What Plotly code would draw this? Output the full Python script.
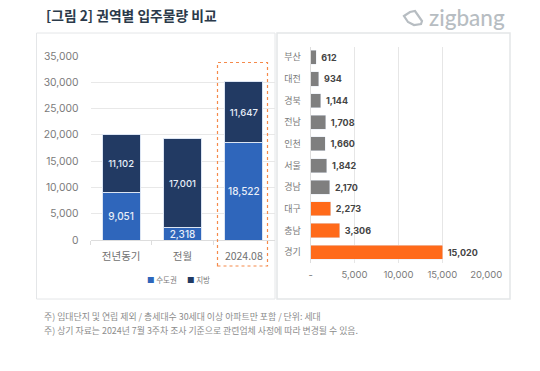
import plotly.graph_objects as go
from plotly.subplots import make_subplots

periods = ["전년동기", "전월", "2024.08"]
metro = [9051, 2318, 18522]
local = [11102, 17001, 11647]
regions = ["부산", "대전", "경북", "전남", "인천", "서울", "경남", "대구", "충남", "경기"]
region_values = [612, 934, 1144, 1708, 1660, 1842, 2170, 2273, 3306, 15020]
region_labels = ["612", "934", "1,144", "1,708", "1,660", "1,842", "2,170", "2,273", "3,306", "15,020"]
GRAY, ORANGE = "#7f7f7f", "#ff6a1a"
region_colors = [GRAY] * 7 + [ORANGE] * 3
BLUE, NAVY = "#2f66bb", "#223a63"
W, H = 540, 371
FONT = "Noto Sans CJK KR"


def px(x):
    return x / W


def py(y):
    return 1 - y / H


def logo_path(points):
    return "M " + " L ".join(f"{px(x):.5f},{py(y):.5f}" for x, y in points) + " Z"


LOGO_OUTLINE = [(404, 16), (410, 12), (415, 11), (422, 21), (421, 24), (414, 25), (408, 22)]

fig = make_subplots(rows=1, cols=2)
fig.add_trace(go.Bar(x=periods, y=metro, name="수도권", marker=dict(color=BLUE, line=dict(color="#dce5f3", width=1)),
                     text=[f"{v:,}" for v in metro], textposition="inside", insidetextanchor="middle",
                     textangle=0, insidetextfont=dict(color="#e8eef8", size=10, family="Inter", weight=500),
                     constraintext="none", showlegend=False), 1, 1)
fig.add_trace(go.Bar(x=periods, y=local, name="지방", marker=dict(color=NAVY, line=dict(color="#dce5f3", width=1)),
                     text=[f"{v:,}" for v in local], textposition="inside", insidetextanchor="middle",
                     textangle=0, insidetextfont=dict(color="#e8eef8", size=9.5, family="Inter", weight=500),
                     constraintext="none", showlegend=False), 1, 1)
fig.add_trace(go.Bar(y=regions, x=region_values, orientation="h", marker=dict(color=region_colors),
                     text=["\u00a0" + t for t in region_labels], textposition="outside", cliponaxis=False,
                     textangle=0, textfont=dict(color="#444444", size=9, family="Inter", weight="bold"),
                     showlegend=False, width=0.65), 1, 2)

fig.update_layout(
    width=W, height=H, margin=dict(l=0, r=0, t=0, b=0), autosize=False,
    paper_bgcolor="white", plot_bgcolor="white", barmode="stack", bargap=0.38,
    font=dict(family=FONT, color="#7a7a7a"),
    shapes=[
        dict(type="rect", xref="paper", yref="paper", x0=px(36.5), x1=px(275), y0=py(299), y1=py(33),
             line=dict(color="#e4e6e8", width=1), layer="below"),
        dict(type="rect", xref="paper", yref="paper", x0=px(277), x1=px(510), y0=py(299), y1=py(33),
             line=dict(color="#e4e6e8", width=1.5), layer="below"),
        dict(type="rect", xref="paper", yref="paper", x0=px(217.5), x1=px(267.5), y0=py(266), y1=py(62.5),
             line=dict(color="#f58a4b", width=1.2, dash="dot"), layer="above"),
        dict(type="path", xref="paper", yref="paper", path=logo_path(LOGO_OUTLINE),
             line=dict(color="#b7bdc2", width=2.2), layer="above"),
    ],
    annotations=[
        dict(text="<b>[그림 2] 권역별 입주물량 비교</b>", xref="paper", yref="paper", x=px(44), y=py(15),
             xanchor="left", yanchor="middle", showarrow=False, font=dict(size=13.8, color="#2b3a4a")),
        dict(text="zigbang", xref="paper", yref="paper", x=px(427), y=py(18), xanchor="left", yanchor="middle",
             showarrow=False, font=dict(size=22.5, color="#b7bdc2", family="Lato", weight=500)),
        dict(text=f"<span style='color:{BLUE}'>■</span> 수도권", xref="paper", yref="paper", x=px(145), y=py(279),
             xanchor="left", yanchor="middle", showarrow=False, font=dict(size=7.5, color="#7a7a7a")),
        dict(text=f"<span style='color:{NAVY}'>■</span> 지방", xref="paper", yref="paper", x=px(185), y=py(279),
             xanchor="left", yanchor="middle", showarrow=False, font=dict(size=7.5, color="#7a7a7a")),
        dict(text="주) 임대단지 및 연립 제외 / 총세대수 30세대 이상 아파트만 포함 / 단위: 세대", xref="paper", yref="paper",
             x=px(42), y=py(316), xanchor="left", yanchor="middle", showarrow=False, font=dict(size=8.9, color="#8c8c8c")),
        dict(text="주) 상기 자료는 2024년 7월 3주차 조사 기준으로 관련업체 사정에 따라 변경될 수 있음.", xref="paper", yref="paper",
             x=px(42), y=py(330), xanchor="left", yanchor="middle", showarrow=False, font=dict(size=8.9, color="#8c8c8c")),
    ],
)
fig.update_xaxes(row=1, col=1, domain=[px(90.5), px(274.5)], tickson="boundaries", ticks="outside", ticklen=4,
                 tickcolor="#dddddd", showline=True, linecolor="#dddddd", showgrid=False, automargin=False,
                 ticklabelstandoff=6, tickfont=dict(size=10.5, color="#707070"))
fig.update_yaxes(row=1, col=1, domain=[py(240), py(56)], range=[0, 35000], dtick=5000, tickformat=",",
                 gridcolor="#e8e8e8", gridwidth=1, zeroline=False, ticklabelstandoff=11, showline=False, automargin=False,
                 tickfont=dict(size=10.3, color="#7a7a7a", family="Inter"))
fig.update_xaxes(row=1, col=2, domain=[px(310.7), px(486.3)], range=[0, 20000], automargin=False,
                 tickvals=[0, 5000, 10000, 15000, 20000], ticktext=["-", "5,000", "10,000", "15,000", "20,000"],
                 gridcolor="#e6e6e6", zeroline=False, showline=False, ticklabelstandoff=4,
                 tickfont=dict(size=9.5, color="#7a7a7a", family="Inter"))
fig.update_yaxes(row=1, col=2, domain=[py(263), py(46.5)], autorange="reversed", showgrid=False, showline=True,
                 linecolor="#dddddd", ticks="", ticklabelstandoff=7, automargin=False, tickfont=dict(size=9, color="#7a7a7a"))

fig.write_html("out.html", config={"displayModeBar": False},
               post_script="document.documentElement.style.overflow='hidden';document.body.style.margin='0';document.body.style.overflow='hidden';")
